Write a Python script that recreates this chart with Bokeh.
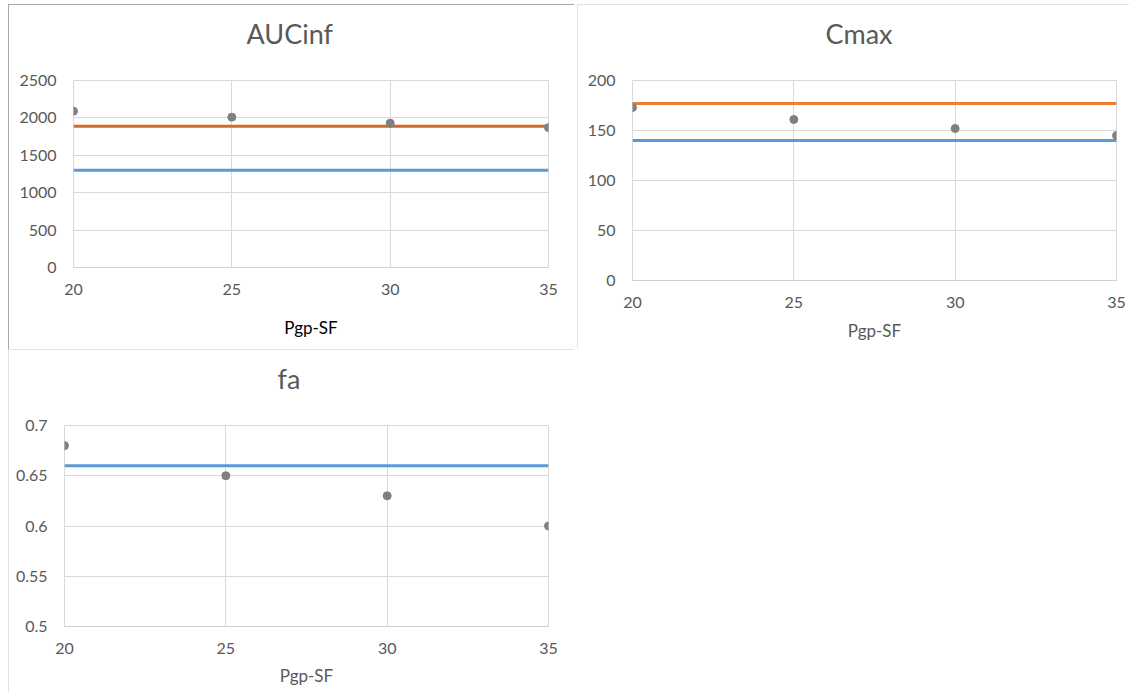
from bokeh.plotting import figure
from bokeh.layouts import column, row
from bokeh.models import FixedTicker, Range1d, NumeralTickFormatter, Title
from bokeh.embed import file_html
from bokeh.resources import INLINE

# Pgp scaling factor values on the x axis
pgp_sf = [20, 25, 30, 35]

# AUCinf: simulated values and two reference levels
auc_sim = [2090, 2010, 1930, 1870]
auc_ref_orange = [1890, 1890, 1890, 1890]
auc_ref_blue = [1300, 1300, 1300, 1300]

# Cmax: simulated values and two reference levels
cmax_sim = [173, 161, 152, 145]
cmax_ref_orange = [177, 177, 177, 177]
cmax_ref_blue = [140, 140, 140, 140]

# fa: simulated values and one reference level
fa_sim = [0.68, 0.65, 0.63, 0.60]
fa_ref_blue = [0.66, 0.66, 0.66, 0.66]

auc_ticks = [0, 500, 1000, 1500, 2000, 2500]
cmax_ticks = [0, 50, 100, 150, 200]
fa_ticks = [0.5, 0.55, 0.6, 0.65, 0.7]

FONT = "Lato"
TEXT = "#595959"
GRID = "#d9d9d9"
BLUE = "#5b9bd5"
GREY_PT = "#808080"


def panel(title, ticks, fmt, w, h, borders, frame_border, xlabel_color,
          xlabel_standoff, title_offset):
    left, right, top, bottom = borders
    p = figure(width=w, height=h, output_backend="svg",
               toolbar_location=None, tools="",
               x_range=Range1d(pgp_sf[0], pgp_sf[-1]),
               y_range=Range1d(ticks[0], ticks[-1]),
               min_border_left=left, min_border_right=right,
               min_border_top=top, min_border_bottom=bottom)

    # blank strip between the plot area and the chart title
    p.add_layout(Title(text=" ", text_font_size="1px", standoff=28), "above")
    p.add_layout(Title(text=title, align="left", offset=title_offset,
                       standoff=0, text_font=FONT, text_font_size="27px",
                       text_font_style="normal", text_color=TEXT), "above")

    p.xaxis.ticker = FixedTicker(ticks=pgp_sf)
    p.yaxis.ticker = FixedTicker(ticks=ticks)
    p.yaxis.formatter = NumeralTickFormatter(format=fmt)
    for ax in (p.xaxis[0], p.yaxis[0]):
        ax.major_tick_in = 0
        ax.major_tick_out = 0
        ax.minor_tick_in = 0
        ax.minor_tick_out = 0
        ax.major_label_text_font = FONT
        ax.major_label_text_font_size = "16px"
        ax.major_label_text_color = TEXT
    p.yaxis.axis_line_color = None
    p.yaxis.major_label_standoff = 17
    p.xaxis.axis_line_color = "#cfcfcf"
    p.xaxis.major_label_standoff = 16
    p.xaxis.axis_label = "Pgp-SF"
    p.xaxis.axis_label_text_font = FONT
    p.xaxis.axis_label_text_font_size = "17px"
    p.xaxis.axis_label_text_font_style = "normal"
    p.xaxis.axis_label_text_color = xlabel_color
    p.xaxis.axis_label_standoff = xlabel_standoff

    p.grid.grid_line_color = GRID
    p.outline_line_color = GRID
    p.background_fill_color = "white"
    p.border_fill_color = "white"
    p.styles = {"outline": "1px solid " + frame_border, "outline-offset": "-1px"}
    return p


p1 = panel("AUCinf", auc_ticks, "0", 566, 345, (65, 26, 76, 82), "#8c8c8c",
           "#000000", 19, 173)
p1.line(pgp_sf, auc_ref_orange, line_color="#d36a2b", line_width=3)
p1.line(pgp_sf, auc_ref_blue, line_color=BLUE, line_width=3)
p1.scatter(pgp_sf, auc_sim, size=8, color=GREY_PT)
p1.margin = (4, 0, 0, 8)

p2 = panel("Cmax", cmax_ticks, "0", 552, 344, (55, 13, 76, 68), "#d9d9d9",
           TEXT, 9, 193)
p2.line(pgp_sf, cmax_ref_orange, line_color="#ed7d31", line_width=3)
p2.line(pgp_sf, cmax_ref_blue, line_color=BLUE, line_width=3)
p2.scatter(pgp_sf, cmax_sim, size=8, color=GREY_PT)
p2.margin = (4, 0, 0, 3)

p3 = panel("fa", fa_ticks, "0.[00]", 566, 343, (56, 26, 76, 66), "#d9d9d9",
           TEXT, 8, 213)
p3.line(pgp_sf, fa_ref_blue, line_color=BLUE, line_width=3)
p3.scatter(pgp_sf, fa_sim, size=8, color=GREY_PT)
p3.margin = (0, 0, 0, 8)

layout = column(row(column(p1), column(p2)), row(p3))
open("out.html", "w").write(file_html(layout, INLINE))
